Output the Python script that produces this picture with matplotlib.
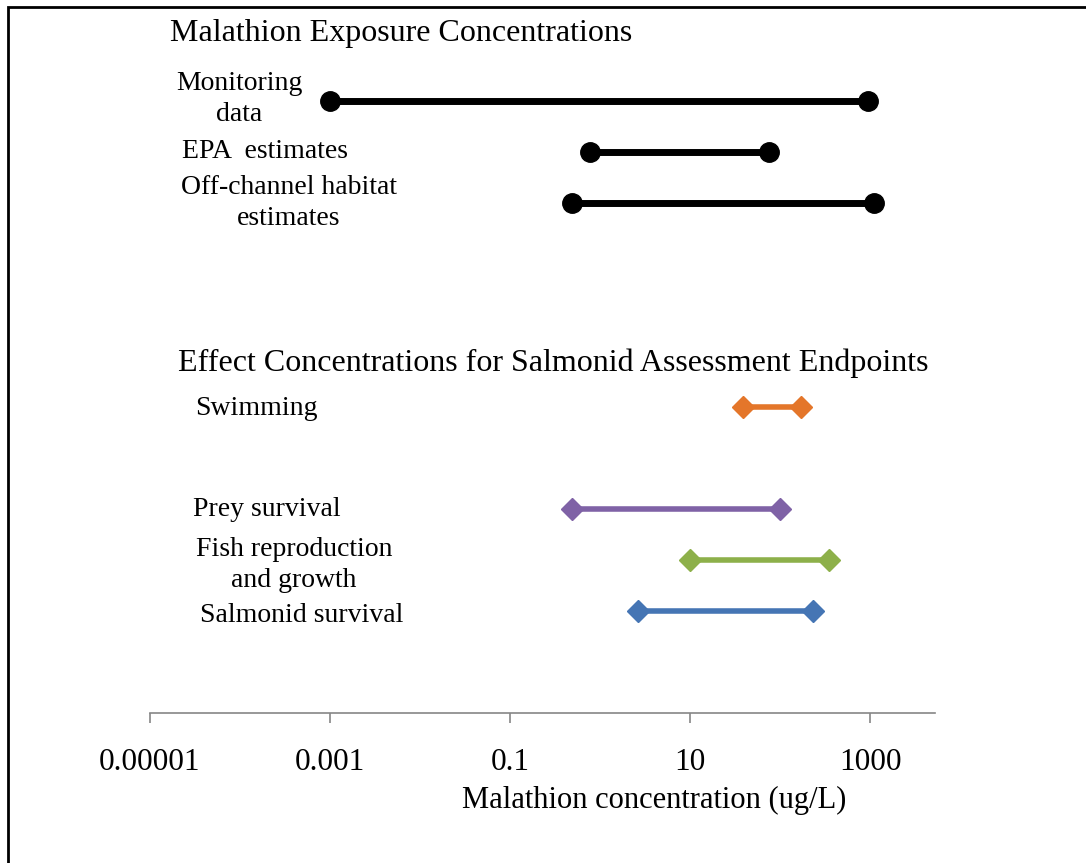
import numpy as np
import matplotlib
matplotlib.use('Agg')
import matplotlib.pyplot as plt
from matplotlib.patches import Rectangle

plt.rcParams['font.family'] = ['Liberation Serif', 'DejaVu Serif']

# exposure ranges (ug/L)
exp_names = ["Monitoring data", "EPA estimates", "Off-channel habitat estimates"]
exp_low = [0.001, 0.77, 0.49]
exp_high = [950, 75, 1100]
exp_rows = [12, 11, 10]

# effect ranges (ug/L)
eff_names = ["Swimming", "Prey survival", "Fish reproduction and growth", "Salmonid survival"]
eff_low = [39, 0.49, 10, 2.65]
eff_high = [170, 100, 350, 233]
eff_rows = [6, 4, 3, 2]
eff_colors = ["#E4762A", "#7F62A6", "#8DB04A", "#4575B4"]

tick_vals = [1e-5, 1e-3, 1e-1, 10, 1000]
tick_labels = ["0.00001", "0.001", "0.1", "10", "1000"]

W, H = 1086, 863
fig = plt.figure(figsize=(W / 100, H / 100), dpi=100)
ax = fig.add_axes([150 / W, 1 - 713 / H, 785 / W, 693 / H])

for lo, hi, r in zip(exp_low, exp_high, exp_rows):
    ax.plot([lo, hi], [r, r], color="black", lw=5, marker="o", ms=14,
            solid_capstyle="butt", zorder=3)

for lo, hi, r, c in zip(eff_low, eff_high, eff_rows, eff_colors):
    ax.plot([lo, hi], [r, r], color=c, lw=4, marker="D", ms=11,
            mec=c, solid_capstyle="butt", zorder=3)

ax.set_xscale("log")
ax.set_xlim(1e-5, 10 ** (-5 + 785 / 90))
ax.set_ylim(0, 693 / 51)
ax.set_xticks(tick_vals)
ax.set_xticklabels(tick_labels, fontsize=22.5)
ax.minorticks_off()
ax.set_yticks([])
for s in ["top", "right", "left"]:
    ax.spines[s].set_visible(False)
ax.spines["bottom"].set_color("#868686")
ax.spines["bottom"].set_linewidth(1.2)
ax.tick_params(axis="x", direction="out", length=7, width=1.2, color="#868686", pad=18.5)
ax.set_xlabel("Malathion concentration (ug/L)", fontsize=22)
ax.xaxis.set_label_coords((654 - 150) / 785, -73 / 693)
ax.patch.set_visible(False)

def px(x, y):
    return x / W, 1 - y / H

fs = 20
fig.text(*px(170, 33), "Malathion Exposure Concentrations", fontsize=23, va="center", ha="left")
fig.text(*px(239, 99), "Monitoring\ndata", fontsize=fs, va="center", ha="center", linespacing=1.3)
fig.text(*px(182, 151), "EPA  estimates", fontsize=fs, va="center", ha="left")
fig.text(*px(289, 203), "Off-channel habitat\nestimates", fontsize=fs, va="center", ha="center", linespacing=1.3)
fig.text(*px(178, 363), "Effect Concentrations for Salmonid Assessment Endpoints", fontsize=23, va="center", ha="left")
fig.text(*px(195, 408), "Swimming", fontsize=fs, va="center", ha="left")
fig.text(*px(193, 509), "Prey survival", fontsize=fs, va="center", ha="left")
fig.text(*px(294, 565), "Fish reproduction\nand growth", fontsize=fs, va="center", ha="center", linespacing=1.3)
fig.text(*px(200, 615), "Salmonid survival", fontsize=fs, va="center", ha="left")

fig.patches.append(Rectangle((8 / W, -0.05), 1.2, 1 - 7 / H + 0.05, transform=fig.transFigure,
                             fill=False, edgecolor="black", lw=2))

fig.savefig("out.png", dpi=100)
